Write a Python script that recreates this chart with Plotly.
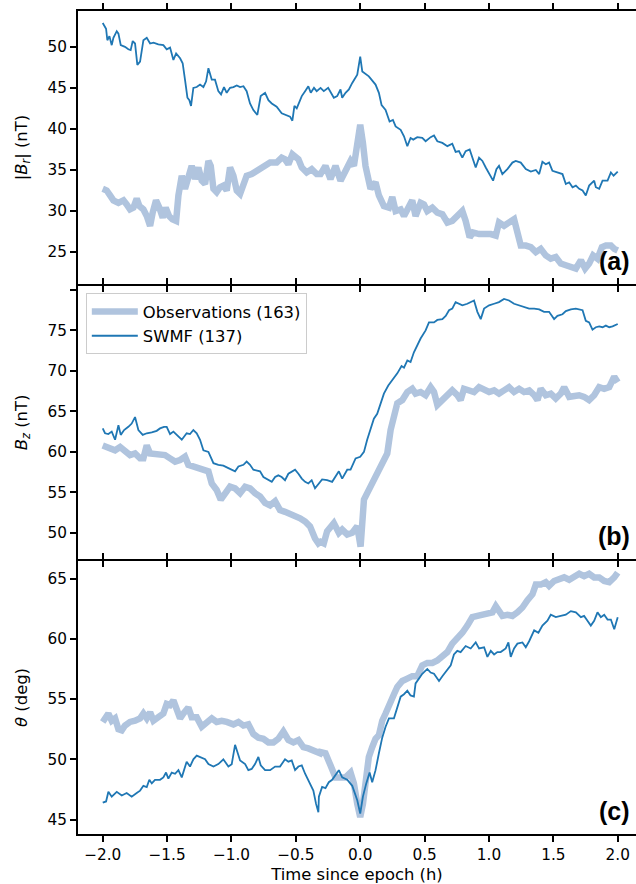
import plotly.graph_objects as go
from plotly.subplots import make_subplots

# ---------------- Panel (a): |B_r| (nT) ----------------
t_a_swmf = [-2.000, -1.974, -1.964, -1.948, -1.930, -1.917, -1.891, -1.878, -1.860, -1.827,
            -1.801, -1.783, -1.767, -1.749, -1.731, -1.710, -1.684, -1.658, -1.632, -1.606,
            -1.568, -1.529, -1.503, -1.477, -1.451, -1.430, -1.399, -1.379, -1.361, -1.342,
            -1.327, -1.314, -1.296, -1.270, -1.244, -1.218, -1.197, -1.179, -1.153, -1.128,
            -1.102, -1.081, -1.058, -1.037, -1.011, -0.985, -0.959, -0.933, -0.907, -0.882,
            -0.856, -0.830, -0.799, -0.773, -0.739, -0.713, -0.687, -0.649, -0.610, -0.571,
            -0.545, -0.527, -0.511, -0.493, -0.454, -0.428, -0.403, -0.384, -0.359, -0.338,
            -0.312,
            -0.308, -0.283, -0.249, -0.205, -0.179, -0.153, -0.140, -0.114, -0.088, -0.062,
            -0.023, 0.000, 0.016, 0.067, 0.119, 0.145, 0.166, 0.197, 0.228, 0.254,
            0.275, 0.314, 0.340, 0.366, 0.391, 0.412, 0.443, 0.482, 0.508, 0.547,
            0.573, 0.599, 0.638, 0.677, 0.715, 0.741, 0.767, 0.793, 0.819, 0.850,
            0.871, 0.897, 0.923, 0.949, 0.975, 1.001, 1.032, 1.058, 1.078, 1.104,
            1.143, 1.182, 1.208, 1.247, 1.286, 1.325, 1.364, 1.390, 1.415, 1.441,
            1.467, 1.493, 1.532, 1.571, 1.597, 1.623, 1.649, 1.675, 1.701, 1.727,
            1.752, 1.778, 1.817, 1.830, 1.856, 1.882, 1.921, 1.947, 1.968, 2.000]
v_a_swmf = [52.9, 52.2, 50.8, 51.3, 50.2, 51.1, 51.9, 51.6, 50.2, 50.0,
            49.7, 49.6, 50.7, 50.4, 47.8, 48.2, 50.8, 51.1, 50.4, 50.5,
            50.3, 50.2, 49.7, 49.9, 48.4, 49.2, 48.6, 48.0, 46.0, 43.8,
            43.5, 42.8, 45.0, 45.1, 45.4, 45.1, 45.8, 47.4, 46.0, 46.0,
            44.6, 44.2, 45.1, 44.4, 45.0, 45.1, 45.3, 45.1, 45.2, 44.6,
            43.1, 42.3, 41.7, 44.0, 44.4, 43.5, 43.1, 42.7, 41.9, 41.7,
            41.5, 41.0, 42.8, 42.5, 44.0, 44.6, 45.2, 44.4, 45.0, 44.6,
            44.9,
            45.0, 44.6, 45.0, 43.8, 44.0, 44.8, 43.8, 44.4, 44.8, 45.6,
            46.6, 48.8, 47.0, 46.4, 45.4, 44.4, 42.9, 42.3, 40.9, 41.1,
            40.3, 39.9, 39.1, 37.9, 38.9, 38.7, 39.0, 38.9, 38.5, 39.0,
            39.2, 38.5, 38.3, 37.9, 38.2, 37.2, 37.3, 36.5, 37.3, 37.5,
            36.6, 35.3, 36.5, 36.1, 35.3, 34.5, 33.7, 35.1, 35.5, 34.5,
            35.1, 35.9, 36.1, 35.9, 35.1, 34.8, 35.0, 34.5, 36.0, 35.7,
            35.9, 34.9, 34.7, 34.5, 33.3, 33.5, 32.9, 33.1, 32.7, 32.5,
            31.9, 33.1, 33.7, 32.9, 32.7, 33.7, 33.7, 34.7, 34.3, 34.8]

t_a_obs = [-2.000, -1.969, -1.943, -1.917, -1.878, -1.839, -1.814, -1.788, -1.762, -1.736,
           -1.715, -1.684, -1.658, -1.632, -1.612, -1.586, -1.560, -1.534, -1.511, -1.485,
           -1.459, -1.430, -1.412, -1.386, -1.361, -1.335, -1.309, -1.283, -1.257, -1.231,
           -1.205, -1.179, -1.161, -1.140, -1.115, -1.089, -1.063, -1.037, -1.011, -0.985,
           -0.959, -0.933, -0.907, -0.882, -0.843, -0.804, -0.752, -0.700, -0.649, -0.610,
           -0.584, -0.558, -0.527, -0.506, -0.480, -0.454, -0.416, -0.377, -0.338,
           -0.308, -0.270, -0.231, -0.192, -0.153, -0.114, -0.075, -0.049, -0.016, 0.000,
           0.021, 0.041, 0.080, 0.119, 0.145, 0.184, 0.223, 0.249, 0.275, 0.314,
           0.340, 0.378, 0.404, 0.430, 0.469, 0.495, 0.521, 0.560, 0.599, 0.638,
           0.677, 0.715, 0.754, 0.793, 0.819, 0.850, 0.876, 0.923, 0.975, 1.014,
           1.053, 1.078, 1.117, 1.156, 1.195, 1.221, 1.247, 1.286, 1.325, 1.364,
           1.402, 1.441, 1.480, 1.519, 1.558, 1.597, 1.636, 1.675, 1.714, 1.747,
           1.778, 1.809, 1.843, 1.877, 1.908, 1.947, 1.973, 2.000]
v_a_obs = [32.7, 32.5, 31.9, 31.3, 31.0, 31.3, 30.8, 30.2, 30.4, 31.5,
           30.6, 30.2, 29.4, 28.2, 29.8, 31.3, 30.4, 29.2, 30.4, 29.4,
           29.0, 28.8, 31.9, 34.3, 32.7, 34.1, 35.5, 33.9, 35.3, 33.7,
           33.3, 36.1, 35.5, 32.7, 32.3, 32.9, 33.1, 32.5, 35.3, 34.3,
           32.5, 32.1, 33.1, 34.3, 34.5, 34.9, 35.3, 35.9, 35.9, 36.5,
           36.3, 35.7, 36.9, 36.5, 36.3, 35.3, 34.7, 35.1, 34.5,
           34.5, 35.5, 33.9, 35.5, 33.7, 35.1, 36.1, 35.5, 39.5, 40.5,
           38.3, 35.5, 32.7, 33.5, 31.9, 30.6, 30.4, 31.7, 30.0, 30.2,
           29.4, 30.4, 31.3, 29.4, 31.0, 30.8, 30.0, 30.4, 29.8, 29.6,
           28.6, 28.8, 29.4, 30.0, 28.8, 26.8, 27.4, 27.2, 27.2, 27.2,
           27.0, 28.6, 28.2, 28.6, 29.0, 27.4, 25.8, 25.8, 25.6, 25.0,
           25.4, 24.6, 24.2, 24.4, 23.6, 23.4, 23.2, 23.0, 24.0, 23.0,
           23.6, 24.6, 24.2, 25.6, 25.8, 25.8, 25.4, 25.2]

# ---------------- Panel (b): B_z (nT) ----------------
t_b_swmf = [-2.000, -1.982, -1.956, -1.930, -1.904, -1.878, -1.860, -1.834, -1.801, -1.775,
            -1.749, -1.723, -1.689, -1.658, -1.619, -1.581, -1.555, -1.524, -1.503, -1.477,
            -1.451, -1.425, -1.386, -1.348, -1.322, -1.296, -1.270, -1.244, -1.218, -1.179,
            -1.140, -1.102, -1.063, -1.024, -0.998, -0.972, -0.946, -0.907, -0.882, -0.856,
            -0.830, -0.804, -0.778, -0.752, -0.726, -0.687, -0.661, -0.636, -0.610, -0.584,
            -0.558, -0.532, -0.506, -0.480, -0.454, -0.428, -0.403, -0.377, -0.351,
            -0.296, -0.257, -0.218, -0.192, -0.166, -0.140, -0.101, -0.075, -0.036, 0.000,
            0.029, 0.054, 0.080, 0.106, 0.132, 0.158, 0.184, 0.218, 0.249, 0.288,
            0.321, 0.340, 0.366, 0.391, 0.417, 0.443, 0.469, 0.508, 0.534, 0.573,
            0.599, 0.638, 0.664, 0.690, 0.715, 0.741, 0.767, 0.793, 0.832, 0.858,
            0.884, 0.910, 0.936, 0.962, 1.001, 1.040, 1.078, 1.117, 1.156, 1.195,
            1.234, 1.273, 1.312, 1.351, 1.390, 1.428, 1.467, 1.506, 1.532, 1.571,
            1.597, 1.636, 1.675, 1.727, 1.752, 1.778, 1.804, 1.830, 1.856, 1.882,
            1.908, 1.934, 1.960, 2.000]
v_b_swmf = [62.9, 62.3, 62.2, 62.5, 61.5, 63.3, 62.1, 62.7, 63.1, 63.5,
            64.3, 62.7, 62.1, 62.3, 62.4, 62.6, 62.9, 63.1, 63.1, 62.2,
            62.5, 62.1, 61.5, 62.3, 62.2, 62.7, 62.3, 61.5, 60.2, 60.0,
            58.6, 58.4, 58.3, 58.0, 57.8, 57.6, 58.2, 58.4, 58.8, 58.4,
            57.8, 57.7, 57.6, 56.9, 56.7, 56.3, 56.9, 57.1, 56.9, 56.5,
            57.3, 57.6, 57.8, 57.3, 56.7, 56.3, 56.1, 56.5, 55.5,
            56.6, 56.5, 56.3, 56.9, 57.6, 56.7, 57.8, 57.8, 59.2, 59.4,
            60.0, 61.5, 62.9, 64.1, 64.7, 66.0, 67.2, 68.2, 68.8, 69.7,
            70.6, 70.4, 71.3, 71.1, 72.3, 73.2, 74.0, 75.0, 76.0, 76.0,
            76.3, 76.4, 76.8, 77.5, 77.7, 78.5, 78.3, 78.1, 78.3, 78.5,
            78.7, 77.3, 76.4, 77.7, 78.1, 78.3, 78.5, 78.9, 78.7, 78.3,
            78.1, 77.9, 77.7, 77.7, 77.6, 77.3, 77.3, 76.4, 76.8, 77.0,
            77.4, 77.6, 77.7, 77.5, 76.2, 76.0, 75.1, 75.4, 75.5, 75.4,
            75.6, 75.4, 75.5, 75.8]

t_b_obs = [-2.000, -1.969, -1.930, -1.904, -1.865, -1.827, -1.788, -1.749, -1.710, -1.684,
           -1.658, -1.632, -1.594, -1.555, -1.516, -1.477, -1.438, -1.399, -1.361, -1.335,
           -1.296, -1.257, -1.218, -1.179, -1.153, -1.115, -1.083, -1.050, -1.011, -0.972,
           -0.933, -0.894, -0.856, -0.817, -0.778, -0.739, -0.700, -0.661, -0.623, -0.584,
           -0.545, -0.506, -0.467, -0.428, -0.390, -0.351, -0.325,
           -0.308, -0.283, -0.257, -0.231, -0.205, -0.166, -0.140, -0.101, -0.062, -0.023,
           0.003, 0.029, 0.067, 0.106, 0.145, 0.184, 0.210, 0.236, 0.262, 0.288,
           0.327, 0.366, 0.404, 0.430, 0.469, 0.508, 0.547, 0.573, 0.599, 0.638,
           0.677, 0.715, 0.754, 0.780, 0.806, 0.845, 0.884, 0.923, 0.962, 1.001,
           1.040, 1.078, 1.117, 1.156, 1.195, 1.234, 1.273, 1.312, 1.351, 1.377,
           1.402, 1.441, 1.480, 1.519, 1.558, 1.584, 1.623, 1.662, 1.701, 1.739,
           1.778, 1.817, 1.856, 1.895, 1.934, 1.973, 2.000]
v_b_obs = [60.8, 60.6, 60.4, 60.2, 60.6, 60.0, 59.6, 59.8, 59.2, 59.2,
           60.8, 59.8, 59.7, 59.8, 59.6, 59.2, 58.8, 59.0, 59.4, 58.4,
           58.2, 58.0, 58.0, 57.6, 56.1, 55.3, 54.1, 54.9, 55.7, 55.5,
           54.9, 55.7, 55.5, 54.9, 54.5, 53.7, 53.4, 53.9, 52.8, 52.6,
           52.4, 52.0, 51.8, 51.4, 50.8, 49.3, 48.7,
           48.9, 48.7, 50.2, 50.6, 51.2, 50.0, 50.4, 49.8, 50.0, 50.8,
           48.3, 54.1, 55.3, 56.9, 58.0, 59.2, 59.8, 62.7, 64.7, 66.0,
           66.4, 67.4, 67.8, 67.2, 67.4, 67.0, 68.0, 67.4, 65.8, 66.4,
           67.0, 67.6, 67.0, 66.4, 67.8, 67.6, 67.4, 68.0, 67.6, 67.4,
           67.6, 67.2, 67.6, 68.0, 67.4, 67.8, 67.4, 67.6, 67.0, 66.4,
           67.8, 67.0, 67.2, 66.6, 67.2, 68.0, 66.8, 67.0, 67.0, 66.8,
           66.4, 67.0, 68.0, 67.8, 68.0, 69.3, 68.6]

# ---------------- Panel (c): theta (deg) ----------------
t_c_swmf = [-2.000, -1.974, -1.956, -1.930, -1.891, -1.852, -1.814, -1.775, -1.736, -1.710,
            -1.684, -1.658, -1.638, -1.619, -1.594, -1.555, -1.529, -1.508, -1.490, -1.464,
            -1.438, -1.412, -1.386, -1.366, -1.348, -1.322, -1.296, -1.270, -1.244, -1.205,
            -1.179, -1.140, -1.102, -1.063, -1.024, -0.998, -0.972, -0.954, -0.933, -0.894,
            -0.869, -0.843, -0.817, -0.791, -0.773, -0.739, -0.700, -0.661, -0.623, -0.584,
            -0.558, -0.532, -0.506, -0.480, -0.454, -0.428, -0.390, -0.364, -0.343, -0.325,
            -0.321, -0.296, -0.270, -0.244, -0.218, -0.192, -0.166, -0.140, -0.101, -0.062,
            -0.023, 0.000, 0.021, 0.047, 0.073, 0.093, 0.119, 0.145, 0.171, 0.197,
            0.223, 0.262, 0.288, 0.314, 0.340, 0.366, 0.391, 0.417, 0.430, 0.456,
            0.482, 0.521, 0.547, 0.573, 0.612, 0.638, 0.677, 0.703, 0.728, 0.754,
            0.780, 0.819, 0.858, 0.897, 0.923, 0.962, 0.988, 1.014, 1.040, 1.065,
            1.091, 1.130, 1.151, 1.169, 1.195, 1.221, 1.260, 1.286, 1.312, 1.351,
            1.384, 1.415, 1.454, 1.480, 1.519, 1.558, 1.597, 1.636, 1.675, 1.714,
            1.739, 1.765, 1.791, 1.817, 1.843, 1.869, 1.895, 1.921, 1.947, 1.973,
            2.000]
v_c_swmf = [46.4, 46.5, 47.3, 46.9, 47.3, 47.0, 47.2, 46.9, 47.2, 47.4,
            47.8, 47.7, 48.3, 48.0, 48.3, 48.3, 48.5, 48.9, 48.4, 48.9,
            48.8, 49.1, 48.5, 49.1, 49.8, 49.4, 50.0, 50.3, 50.2, 50.0,
            49.6, 49.4, 49.6, 50.0, 49.4, 49.6, 51.2, 50.6, 49.9, 49.6,
            49.1, 49.2, 49.6, 50.2, 49.5, 49.1, 49.1, 49.4, 49.4, 50.0,
            49.8, 49.9, 49.1, 49.4, 49.5, 48.8, 48.0, 47.4, 46.3, 45.6,
            46.9, 47.7, 47.6, 48.1, 48.3, 48.7, 49.1, 48.5, 48.3, 47.8,
            46.6, 45.5, 46.9, 48.0, 48.9, 48.1, 49.1, 50.5, 51.8, 52.7,
            53.4, 53.4, 54.3, 55.2, 55.4, 55.7, 55.3, 55.2, 56.3, 56.7,
            57.1, 57.5, 57.2, 57.1, 56.5, 56.9, 57.5, 57.8, 58.7, 59.0,
            58.9, 59.4, 59.2, 59.7, 59.2, 59.3, 58.5, 59.0, 58.7, 58.9,
            58.9, 59.2, 59.7, 58.5, 59.2, 59.6, 59.7, 59.3, 59.8, 60.7,
            60.5, 61.1, 61.5, 62.0, 61.8, 61.9, 62.0, 62.3, 62.2, 61.8,
            61.9, 61.5, 61.1, 61.5, 62.2, 61.8, 62.0, 61.6, 61.6, 60.8,
            61.8]

t_c_obs = [-2.000, -1.974, -1.956, -1.930, -1.904, -1.878, -1.852, -1.827, -1.788, -1.749,
           -1.710, -1.684, -1.658, -1.632, -1.606, -1.568, -1.529, -1.503, -1.477, -1.451,
           -1.425, -1.399, -1.373, -1.335, -1.309, -1.270, -1.231, -1.192, -1.153, -1.115,
           -1.076, -1.037, -0.985, -0.946, -0.907, -0.869, -0.830, -0.791, -0.752, -0.713,
           -0.674, -0.636, -0.597, -0.558, -0.519, -0.480, -0.441, -0.403, -0.364, -0.312,
           -0.308, -0.270, -0.231, -0.192, -0.153, -0.114, -0.075, -0.049, -0.023, 0.000,
           0.021, 0.041, 0.067, 0.093, 0.119, 0.145, 0.171, 0.197, 0.223, 0.262,
           0.288, 0.327, 0.366, 0.404, 0.443, 0.482, 0.521, 0.560, 0.599, 0.638,
           0.677, 0.715, 0.754, 0.793, 0.832, 0.871, 0.910, 0.949, 0.988, 1.027,
           1.053, 1.078, 1.104, 1.143, 1.182, 1.221, 1.260, 1.299, 1.338, 1.364,
           1.402, 1.441, 1.467, 1.506, 1.545, 1.584, 1.623, 1.662, 1.701, 1.739,
           1.778, 1.817, 1.856, 1.895, 1.934, 1.973, 2.000]
v_c_obs = [53.1, 53.4, 53.8, 53.2, 53.4, 52.5, 52.4, 52.8, 53.1, 53.2,
           53.4, 53.8, 53.4, 53.9, 53.2, 53.5, 53.8, 54.6, 54.5, 54.9,
           54.3, 53.4, 53.8, 54.3, 53.5, 53.5, 52.7, 53.1, 53.4, 53.1,
           53.2, 53.1, 52.9, 53.1, 52.8, 52.9, 52.1, 51.8, 51.7, 51.4,
           51.4, 51.7, 52.3, 51.6, 51.4, 51.6, 51.0, 50.9, 50.7, 50.5,
           50.6, 50.5, 49.5, 48.5, 48.5, 48.5, 48.9, 48.0, 46.3, 45.2,
           46.3, 48.5, 50.2, 51.0, 51.7, 52.0, 53.2, 53.8, 54.6, 55.4,
           56.0, 56.5, 56.7, 56.9, 56.9, 57.8, 58.0, 58.0, 58.2, 58.5,
           58.9, 59.6, 60.0, 60.5, 61.1, 61.8, 61.9, 62.0, 62.2, 62.2,
           62.7, 62.3, 61.9, 62.0, 61.9, 62.2, 62.6, 63.2, 63.7, 64.5,
           64.5, 64.7, 64.4, 64.8, 64.9, 65.1, 64.9, 65.1, 65.4, 65.2,
           65.4, 65.1, 65.1, 64.8, 64.7, 65.1, 65.5]

x_ticks = [-2.0, -1.5, -1.0, -0.5, 0.0, 0.5, 1.0, 1.5, 2.0]
x_ticktext = ["−2.0", "−1.5", "−1.0", "−0.5", "0.0", "0.5", "1.0", "1.5", "2.0"]
y_ticks_a = [25, 30, 35, 40, 45, 50]
y_ticks_b = [50, 55, 60, 65, 70, 75, 80]
y_ticktext_b = ["50", "55", "60", "65", "70", "75", ""]
y_ticks_c = [45, 50, 55, 60, 65]
legend_names = ["Observations (163)", "SWMF (137)"]
panel_labels = ["(a)", "(b)", "(c)"]
y_titles = ["|<i>B</i><sub><i>r</i></sub>| (nT)", "<i>B</i><sub><i>z</i></sub> (nT)", "<i>θ</i> (deg)"]
x_title = "Time since epoch (h)"

OBS_COLOR = "#b0c4de"
SWMF_COLOR = "#1f77b4"
FONT = "DejaVu Sans"
TICK_SIZE = 15.3
LABEL_SIZE = 16.4
LW = 1.8

H = 884
T, B = 11, 50
plot_h = H - T - B
fig = make_subplots(rows=3, cols=1, vertical_spacing=LW / plot_h)

series = [(t_a_obs, v_a_obs, t_a_swmf, v_a_swmf),
          (t_b_obs, v_b_obs, t_b_swmf, v_b_swmf),
          (t_c_obs, v_c_obs, t_c_swmf, v_c_swmf)]

for i, (to, vo, ts, vs) in enumerate(series):
    row = i + 1
    fig.add_trace(go.Scatter(x=to, y=vo, mode="lines", name=legend_names[0],
                             legendgroup="obs",
                             line=dict(color=OBS_COLOR, width=6.5),
                             showlegend=(row == 2)), row=row, col=1)
    fig.add_trace(go.Scatter(x=ts, y=vs, mode="lines", name=legend_names[1],
                             legendgroup="swmf",
                             line=dict(color=SWMF_COLOR, width=1.8),
                             showlegend=(row == 2)), row=row, col=1)

y_ranges = [[21.1, 54.36], [46.76, 80.5], [43.8, 66.47]]
y_tickvals = [y_ticks_a, y_ticks_b, y_ticks_c]
y_ticktexts = [[str(v) for v in y_ticks_a], y_ticktext_b, [str(v) for v in y_ticks_c]]

axis_common = dict(showline=True, linecolor="black", linewidth=LW,
                   ticks="outside", ticklen=6, tickwidth=LW, tickcolor="black",
                   showgrid=False, zeroline=False,
                   tickfont=dict(family=FONT, size=TICK_SIZE, color="black"))

for i in range(3):
    row = i + 1
    fig.update_xaxes(range=[-2.192, 2.142], tickvals=x_ticks, ticktext=x_ticktext,
                     showticklabels=(row == 3), mirror="ticks", **axis_common,
                     row=row, col=1)
    fig.update_yaxes(range=y_ranges[i], tickvals=y_tickvals[i], ticktext=y_ticktexts[i],
                     mirror=False,
                     title=dict(text=y_titles[i],
                                font=dict(family=FONT, size=LABEL_SIZE, color="black"),
                                standoff=16),
                     **axis_common, row=row, col=1)
    suffix = "" if row == 1 else str(row)
    fig.add_annotation(text="<b>" + panel_labels[i] + "</b>",
                       xref="x%s domain" % suffix, yref="y%s domain" % suffix,
                       x=0.993, y=0.083, xanchor="right", yanchor="middle", showarrow=False,
                       font=dict(family="Liberation Sans", size=25, color="black"))

fig.update_xaxes(title=dict(text=x_title,
                            font=dict(family=FONT, size=LABEL_SIZE, color="black"),
                            standoff=7), row=3, col=1)

fig.update_layout(
    width=636, height=H,
    margin=dict(l=78, r=0, t=T, b=B, autoexpand=False),
    paper_bgcolor="white", plot_bgcolor="white",
    font=dict(family=FONT, size=TICK_SIZE, color="black"),
    legend=dict(x=0.014, y=0.657, xanchor="left", yanchor="top",
                itemwidth=46, traceorder="normal",
                bgcolor="rgba(255,255,255,0.8)", bordercolor="#cccccc", borderwidth=1,
                font=dict(family=FONT, size=LABEL_SIZE, color="black")),
)

fig.write_html("out.html")
